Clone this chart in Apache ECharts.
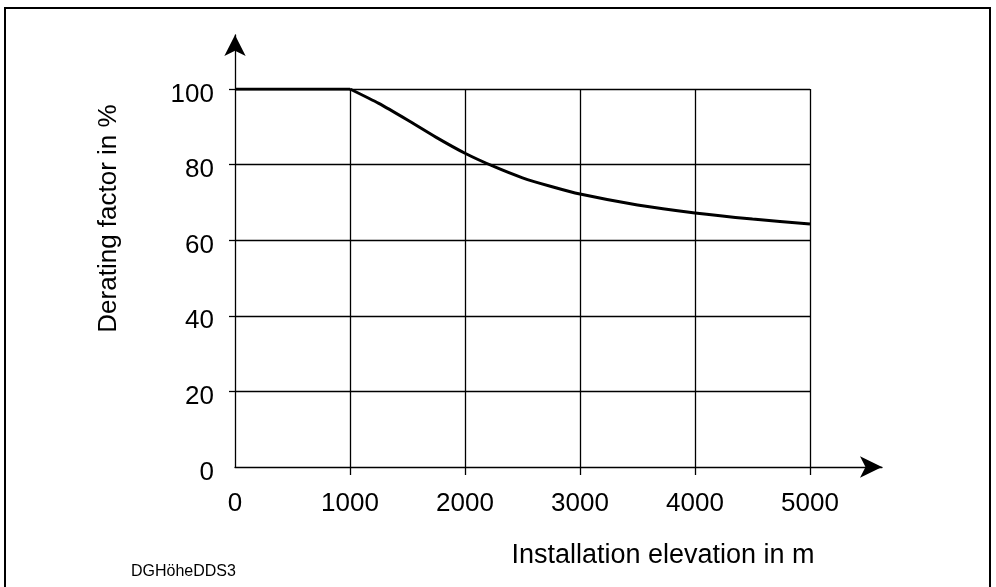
<!DOCTYPE html>
<html>
<head>
<meta charset="utf-8">
<script src="https://cdn.jsdelivr.net/npm/echarts@6/dist/echarts.min.js"></script>
<style>html,body{margin:0;padding:0;background:#fff}#c{width:996px;height:587px}</style>
</head>
<body>
<div id="c"></div>
<script>
const elevation = [0, 1000, 1250, 1500, 1750, 2000, 2250, 2500, 2750, 3000, 3500, 4000, 4500, 5000];
const derating = [100, 100, 96.2, 91.8, 87.2, 83.0, 79.5, 76.5, 74.2, 72.2, 69.3, 67.2, 65.6, 64.3];
const xTicks = [0, 1000, 2000, 3000, 4000, 5000];
const yTicks = [0, 20, 40, 60, 80, 100];
const xTickMarks = [1000, 2000, 3000, 4000, 5000];
const yTickMarks = [20, 40, 60, 80, 100];
const xName = 'Installation elevation in m';
const yName = 'Derating factor in %';
const figId = 'DGHöheDDS3';

const FONT = '"Liberation Sans", Arial, sans-serif';
const chart = echarts.init(document.getElementById('c'));
const lineC = '#000';
const points = elevation.map((x, i) => [x, derating[i]]);
chart.setOption({
  animation: false,
  backgroundColor: '#fff',
  grid: [
    {left: 235, top: 89, width: 575, height: 378},
    {left: 235, top: 35, width: 647, height: 432}
  ],
  xAxis: [
    {
      type: 'value', gridIndex: 0, min: 0, max: 5000, interval: 1000,
      axisLine: {show: false},
      axisTick: {show: true, customValues: xTickMarks, length: 8, lineStyle: {color: lineC, width: 1.3}},
      axisLabel: {customValues: xTicks, color: '#000', fontSize: 26, fontFamily: FONT, margin: 24, formatter: v => String(v)},
      splitLine: {show: true, lineStyle: {color: lineC, width: 1.3}}
    },
    {
      type: 'value', gridIndex: 1, min: 0, max: 1,
      axisLine: {show: true, symbol: ['none', 'arrow'], symbolSize: [16, 22], lineStyle: {color: lineC, width: 1.3}},
      axisTick: {show: false}, axisLabel: {show: false}, splitLine: {show: false}
    }
  ],
  yAxis: [
    {
      type: 'value', gridIndex: 0, min: 0, max: 100, interval: 20,
      axisLine: {show: false},
      axisTick: {show: true, customValues: yTickMarks, length: 6, lineStyle: {color: lineC, width: 1.3}},
      axisLabel: {customValues: yTicks, color: '#000', fontSize: 26, fontFamily: FONT, margin: 21, verticalAlign: 'top', lineHeight: 11, formatter: v => String(v)},
      splitLine: {show: true, lineStyle: {color: lineC, width: 1.3}}
    },
    {
      type: 'value', gridIndex: 1, min: 0, max: 1,
      axisLine: {show: true, symbol: ['none', 'arrow'], symbolSize: [16, 21], lineStyle: {color: lineC, width: 1.3}},
      axisTick: {show: false}, axisLabel: {show: false}, splitLine: {show: false}
    }
  ],
  series: [
    {
      type: 'line', xAxisIndex: 0, yAxisIndex: 0,
      data: points.slice(0, 2),
      symbol: 'none',
      lineStyle: {color: '#000', width: 3}
    },
    {
      type: 'line', xAxisIndex: 0, yAxisIndex: 0,
      data: points.slice(1),
      symbol: 'none', smooth: 0.2,
      lineStyle: {color: '#000', width: 3}
    }
  ],
  graphic: [
    {type: 'rect', shape: {x: 5, y: 8, width: 985, height: 600}, style: {fill: 'none', stroke: '#000', lineWidth: 2}, silent: true},
    {type: 'text', x: 663, y: 556, style: {text: xName, fontSize: 27, fontFamily: FONT, fill: '#000', align: 'center', verticalAlign: 'middle'}},
    {type: 'text', x: 109, y: 218.5, rotation: Math.PI / 2, style: {text: yName, fontSize: 26, fontFamily: FONT, fill: '#000', align: 'center', verticalAlign: 'middle'}},
    {type: 'text', x: 131, y: 572, style: {text: figId, fontSize: 16, fontFamily: FONT, fill: '#000', align: 'left', verticalAlign: 'middle'}}
  ]
});
</script>
</body>
</html>
